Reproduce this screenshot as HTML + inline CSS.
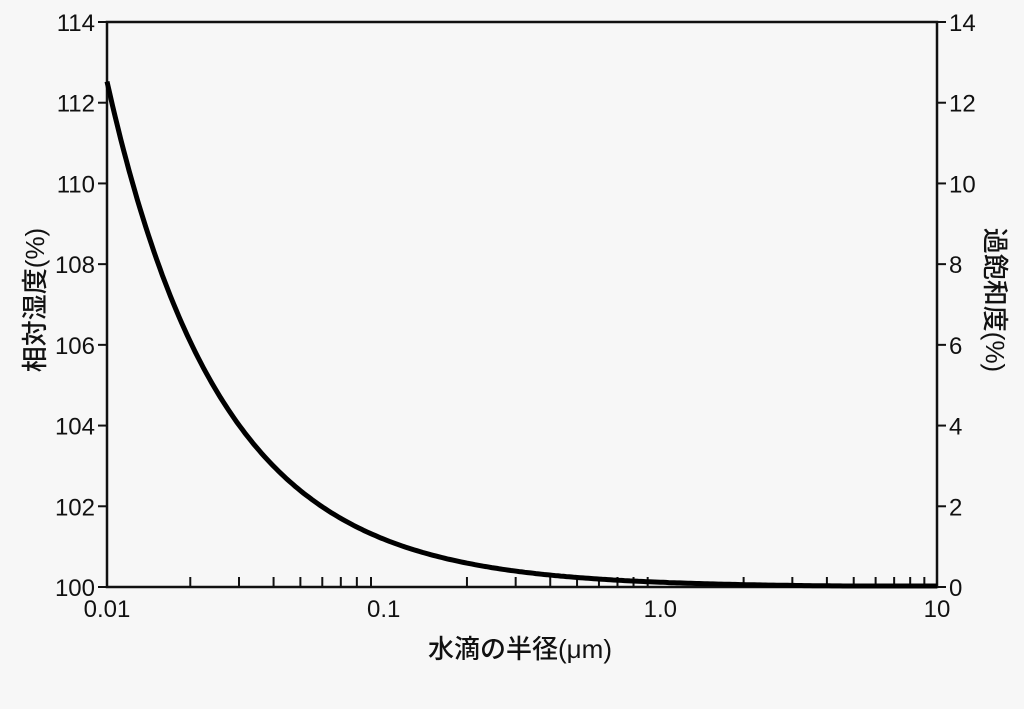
<!DOCTYPE html>
<html><head><meta charset="utf-8"><style>
html,body{margin:0;padding:0;background:#f7f7f7;}
svg{display:block;}
text{font-family:"Liberation Sans","Noto Sans CJK JP",sans-serif;fill:#111;}
</style></head><body>
<svg id="s" width="1024" height="709" viewBox="0 0 1024 709">
<rect width="1024" height="709" fill="#f7f7f7"/>
<rect x="107" y="22" width="830" height="565" fill="none" stroke="#111" stroke-width="2.5"/>
<g id="ticks" stroke="#111" stroke-width="2"></g>
<g id="labels" font-size="24" font-weight="500"></g>
<path id="curve" fill="none" stroke="#000" stroke-width="5"/>
<text x="520" y="658" font-size="26" font-weight="500" text-anchor="middle">水滴の半径(μm)</text>
<text transform="translate(44,300) rotate(-90)" font-size="26" font-weight="500" text-anchor="middle">相対湿度(%)</text>
<text transform="translate(986,300) rotate(90)" font-size="26" font-weight="500" text-anchor="middle">過飽和度(%)</text>
</svg>
<script>
var L=107,R=937,T=22,B=587,dec=(R-L)/3;
function X(r){return L+Math.log10(r/0.01)*dec;}
function Y(v){return B-(v-100)*(B-T)/14;}
var ns="http://www.w3.org/2000/svg",tk=document.getElementById('ticks'),lb=document.getElementById('labels');
function ln(x1,y1,x2,y2){var l=document.createElementNS(ns,'line');l.setAttribute('x1',x1);l.setAttribute('y1',y1);l.setAttribute('x2',x2);l.setAttribute('y2',y2);tk.appendChild(l);}
function tx(x,y,s,a){var t=document.createElementNS(ns,'text');t.setAttribute('x',x);t.setAttribute('y',y);t.setAttribute('text-anchor',a);t.textContent=s;lb.appendChild(t);}
for(var v=100;v<=114;v+=2){var y=Y(v);ln(98,y,107,y);ln(937,y,946,y);tx(95,y+9,String(v),'end');tx(949,y+9,String(v-100),'start');}
for(var d=0;d<3;d++){for(var k=2;k<=9;k++){var x=X(0.01*Math.pow(10,d)*k);ln(x,B,x,B-10);}}
[["0.01",0.01],["0.1",0.1],["1.0",1],["10",10]].forEach(function(p){tx(X(p[1]),617,p[0],'middle');});
var d="";for(var i=0;i<=300;i++){var r=0.01*Math.pow(10,i/100);var v=100*Math.exp(0.00118/r);var y=Math.min(Y(v),B-1);d+=(i?"L":"M")+X(r).toFixed(1)+","+y.toFixed(1);}
document.getElementById('curve').setAttribute('d',d);
</script>
</body></html>
